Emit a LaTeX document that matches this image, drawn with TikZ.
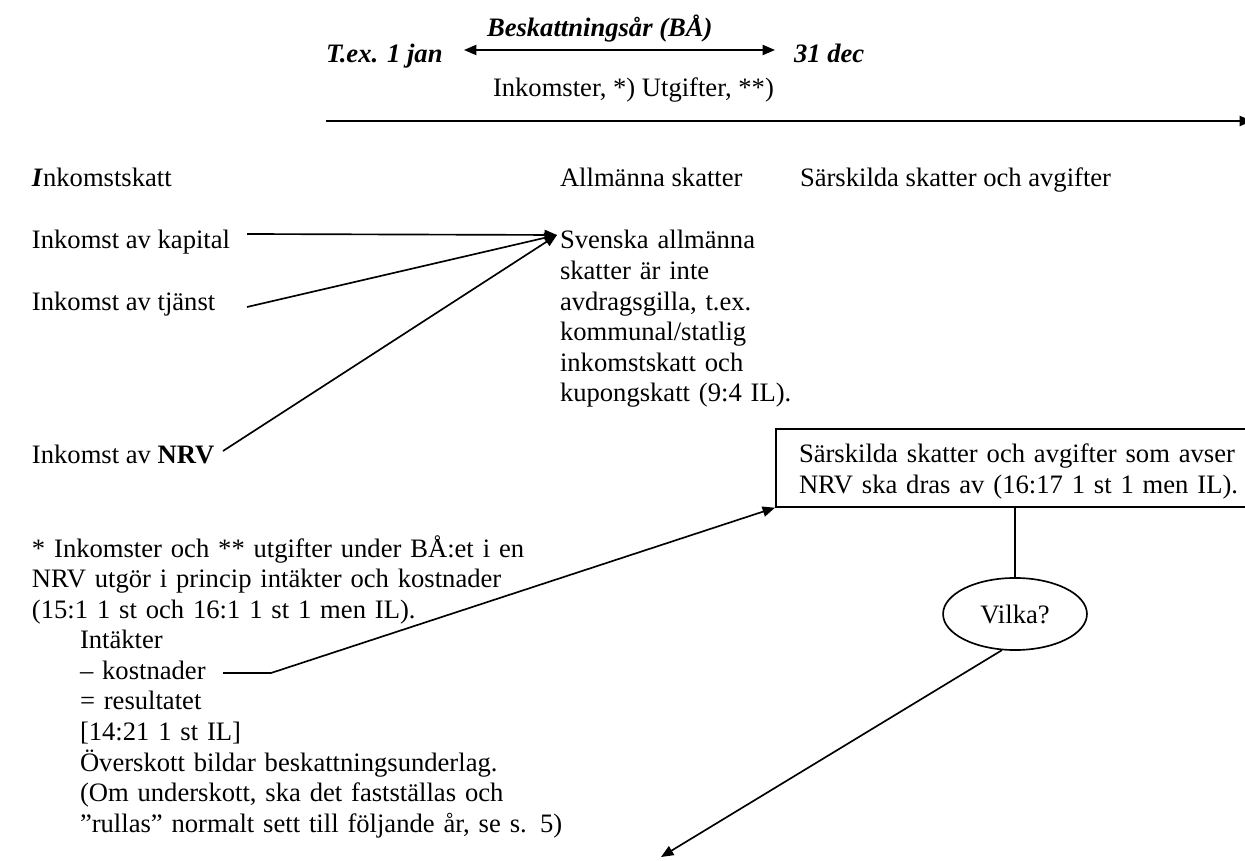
\documentclass[tikz,border=0pt]{standalone}
\usepackage{fontspec}
\setmainfont{Liberation Serif}
\usetikzlibrary{arrows.meta,shapes.geometric}
\begin{document}
\begin{tikzpicture}[x=0.451pt,y=-0.451pt,
  txt/.style={inner sep=0pt,outer sep=0pt,anchor=base west,font=\fontsize{12}{13.8}\selectfont},
  bi/.style={txt,font=\fontsize{12}{13.8}\selectfont\bfseries\itshape},
  para/.style={txt,text width=260pt,align=left},
  ln/.style={line width=0.75pt},
  arr/.style={ln,-{Triangle[length=5.6pt,width=4.6pt]}},
  darr/.style={ln,{Triangle[length=5.6pt,width=4.6pt]}-{Triangle[length=5.6pt,width=4.6pt]}}]
\useasboundingbox (0,0) rectangle (1245,861);

% top: tax year
\node[bi] (year) at (487,37) {Beskattningsår (BÅ)};
\node[bi] (jan) at (326,63) {T.ex. 1 jan};
\node[bi] (dec) at (794,63) {31 dec};
\coordinate (yl) at (464,50);
\coordinate (yr) at (775,50);
\draw[darr] (yl) -- (yr);
\node[txt] (flow) at (493,97) {Inkomster, *) Utgifter, **)};
\coordinate (t0) at (326,121);
\coordinate (t1) at (1252,121);
\draw[arr] (t0) -- (t1);

% headings
\node[txt] (ink) at (32,187) {\textbf{\textit{I}}nkomstskatt};
\node[txt] (allm) at (560,187) {Allmänna skatter};
\node[txt] (sars) at (800,187) {Särskilda skatter och avgifter};

% income types
\node[txt] (kap) at (32,249) {Inkomst av kapital};
\node[txt] (tj) at (32,310.2) {Inkomst av tjänst};
\node[txt] (nrv) at (32,463.2) {Inkomst av \textbf{NRV}};

\node[para] (sv) at (560,249) {Svenska allmänna\\skatter är inte\\avdragsgilla, t.ex.\\kommunal/statlig\\inkomstskatt och\\kupongskatt (9:4 IL).};

\coordinate (svtip) at (557,235);
\coordinate (kapA) at (247,234);
\coordinate (tjA) at (247,307);
\coordinate (nrvA) at (223,451);
\draw[arr] (kapA) -- (svtip);
\draw[arr] (tjA) -- (svtip);
\draw[arr] (nrvA) -- (svtip);

% special taxes box
\node[draw,ln,anchor=north west,inner sep=0pt,minimum width=218.7pt,minimum height=35.2pt] (box) at (775,428) {};
\node[para] (boxtxt) at (799,463) {Särskilda skatter och avgifter som avser\\NRV ska dras av (16:17 1 st 1 men IL).};

\node[draw,ln,ellipse,inner sep=0pt,minimum width=64.9pt,minimum height=32.5pt,font=\fontsize{12}{13.8}\selectfont] (vilka) at (1015,614) {Vilka?};
\draw[ln] (box.south -| vilka.north) -- (vilka.north);
\coordinate (vtip) at (661,857);
\draw[arr] (vilka.250) -- (vtip);

% footnote
\node[para] (fn) at (32,557) {* Inkomster och ** utgifter under BÅ:et i en\\NRV utgör i princip intäkter och kostnader\\(15:1 1 st och 16:1 1 st 1 men IL).};
\node[para] (res) at (80,648.8) {Intäkter\\– kostnader\\= resultatet\\{[14:21 1 st IL]}\\Överskott bildar beskattningsunderlag.\\(Om underskott, ska det fastställas och\\”rullas” normalt sett till följande år, se s. 5)};
\coordinate (k1) at (223,673);
\coordinate (k2) at (271,673);
\draw[arr] (k1) -- (k2) -- (box.south west);
\end{tikzpicture}
\end{document}
